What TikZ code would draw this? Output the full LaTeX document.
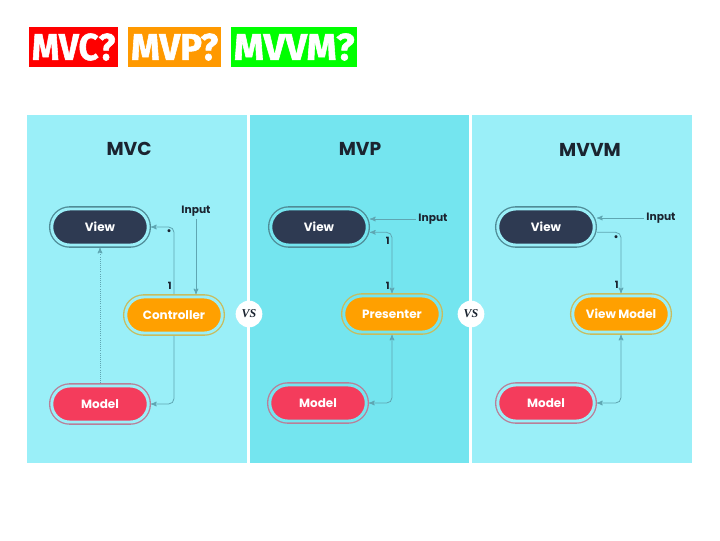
\documentclass[tikz,border=0pt]{standalone}
\usepackage{fontspec}
\setmainfont{Poppins}
\newfontfamily\headfont{Fira Sans}[BoldFeatures={FakeBold=1.5}]
\newfontfamily\vsfont{Liberation Serif}
\usepackage{xcolor}
\usepackage{tikz}
\usetikzlibrary{arrows,positioning,shapes.misc}

\definecolor{panelA}{HTML}{9AEFF8}
\definecolor{panelB}{HTML}{74E5EF}
\definecolor{viewcol}{HTML}{2E3A52}
\definecolor{viewring}{HTML}{4F8C97}
\definecolor{ctlcol}{HTML}{FFA000}
\definecolor{ctlring}{HTML}{C8BC5E}
\definecolor{modelcol}{HTML}{F43C5C}
\definecolor{modelring}{HTML}{B97F98}
\definecolor{linkcol}{HTML}{5FA6B2}
\definecolor{textcol}{HTML}{1B2430}
\definecolor{tagred}{HTML}{FF0000}
\definecolor{tagorange}{HTML}{FF9900}
\definecolor{taggreen}{HTML}{00FF00}
\colorlet{gapcol}{panelA}

\tikzset{
 pill/.style 2 args={rounded rectangle, fill=#1, preaction={draw=#2, line width=4.2pt},
  draw=gapcol, line width=2.2pt, minimum width=79pt, minimum height=27pt, outer sep=2.1pt,
  text=white, font=\fontsize{9}{10}\selectfont\bfseries},
 view/.style={pill={viewcol}{viewring}},
 ctl/.style={pill={ctlcol}{ctlring}},
 model/.style={pill={modelcol}{modelring}},
 link/.style={draw=linkcol, line width=0.6pt, rounded corners=4pt},
 num/.style={font=\fontsize{7.5}{8}\selectfont\bfseries, text=textcol, inner sep=1.5pt},
 lbl/.style={font=\fontsize{8}{9}\selectfont\bfseries, text=textcol, inner sep=2pt},
 head/.style={font=\fontsize{14}{14}\selectfont\bfseries, text=textcol},
 vs/.style={circle, fill=white, minimum size=20pt, inner sep=0pt, text=textcol,
  font=\vsfont\bfseries\itshape\fontsize{9}{9}\selectfont},
 tag/.style={fill=#1, text=white, minimum height=30pt, inner xsep=2pt,
  font=\headfont\bfseries\fontsize{28}{28}\selectfont}
}

\begin{document}
\begin{tikzpicture}[x=0.75pt,y=-0.75pt,>=stealth']
 \useasboundingbox (0,0) rectangle (720,540);
 \fill[white] (0,0) rectangle (720,540);

 % titles
 \node[tag=tagred, anchor=west] (t1) at (29,47) {\scalebox{0.93}[1]{MVC?}};
 \node[tag=tagorange, right=7.5pt of t1] (t2) {\scalebox{0.975}[1]{MVP?}};
 \node[tag=taggreen, right=7.5pt of t2] (t3) {\scalebox{1.02}[1]{MVVM?}};

 % panels
 \fill[panelA] (27,115) rectangle (247,463);
 \fill[panelB] (250,115) rectangle (469,463);
 \fill[panelA] (472,115) rectangle (692,463);

 % MVC
 \node[head] (h1) at (129,149) {MVC};
 \node[view] (v1) at (100,227) {View};
 \node[ctl] (c1) at (174,315) {Controller};
 \node[model] (m1) at (100,404) {Model};
 \node[lbl] (i1) at (196,211) {Input};
 \draw[link,->] (i1.south) -- (i1.south |- c1.north);
 \draw[link,->] (c1.north) |- (v1.east)
  node[num,pos=0.06,left] {1} node[num,pos=0.46,left] {•};
 \draw[link,->] (c1.south) |- (m1.east);
 \draw[link,->,densely dotted] (m1.north) -- (v1.south);

 % MVP
 \begin{scope}
 \colorlet{gapcol}{panelB}
 \node[head] (h2) at (360,149) {MVP};
 \node[view] (v2) at (319,227) {View};
 \node[ctl] (p2) at (392,314) {Presenter};
 \node[model] (m2) at (318,403) {Model};
 \node[lbl] (i2) at (433,219) {Input};
 \draw[link,->] (i2.west) -- (i2.west -| v2.east);
 \draw[link,<->] (p2.north) |- ([yshift=-4pt]v2.east)
  node[num,pos=0.06,left] {1} node[num,pos=0.43,left] {1};
 \draw[link,<->] (p2.south) |- (m2.east);
 \end{scope}

 % MVVM
 \node[head] (h3) at (590,150) {MVVM};
 \node[view] (v3) at (546,227) {View};
 \node[ctl] (vm3) at (621,314) {View Model};
 \node[model] (m3) at (546,403) {Model};
 \node[lbl] (i3) at (661,218) {Input};
 \draw[link,->] (i3.west) -- (i3.west -| v3.east);
 \draw[link,->] ([yshift=-4pt]v3.east) -| (vm3.north)
  node[num,pos=0.55,left] {•} node[num,pos=0.935,left] {1};
 \draw[link,<->] (vm3.south) |- (m3.east);

 % vs badges
 \node[vs] (vs1) at (249,314) {VS};
 \node[vs] (vs2) at (471,314) {VS};
\end{tikzpicture}
\end{document}
